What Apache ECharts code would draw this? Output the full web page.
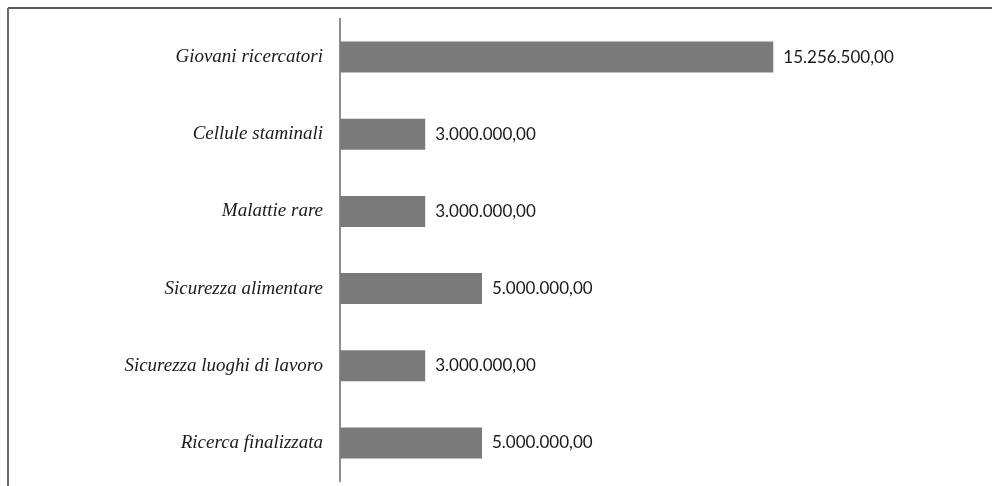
<!DOCTYPE html>
<html>
<head>
<meta charset="utf-8">
<script src="https://cdn.jsdelivr.net/npm/echarts@6/dist/echarts.min.js"></script>
<style>
html,body{margin:0;padding:0;background:#fff;}
#chart{width:992px;height:486px;}
</style>
</head>
<body>
<div id="chart"></div>
<script>
const categories = ['Ricerca finalizzata', 'Sicurezza luoghi di lavoro', 'Sicurezza alimentare', 'Malattie rare', 'Cellule staminali', 'Giovani ricercatori'];
const values = [5000000, 3000000, 5000000, 3000000, 3000000, 15256500];

function fmtIt(v) {
  const parts = v.toFixed(2).split('.');
  const intPart = parts[0].replace(/\B(?=(\d{3})+(?!\d))/g, '.');
  return intPart + ',' + parts[1];
}

const chart = echarts.init(document.getElementById('chart'), null, {renderer: 'canvas'});
chart.setOption({
  animation: false,
  backgroundColor: '#ffffff',
  grid: {left: 340, top: 18.5, width: 568, height: 463},
  xAxis: {
    type: 'value', min: 0, max: 20000000,
    show: false,
    splitLine: {show: false}
  },
  yAxis: {
    type: 'category',
    data: categories,
    axisLine: {show: true, lineStyle: {color: '#6a6a6a', width: 1.5}},
    axisTick: {show: false},
    axisLabel: {
      margin: 17,
      fontFamily: 'Liberation Serif',
      fontStyle: 'italic',
      fontSize: 19,
      color: '#1a1a1a'
    }
  },
  series: [{
    type: 'bar',
    data: values,
    barWidth: 31,
    itemStyle: {color: '#7a7a7a'},
    label: {
      show: true,
      position: 'right',
      distance: 10,
      formatter: p => fmtIt(p.value),
      fontFamily: 'Lato',
      fontSize: 17,
      color: '#1a1a1a'
    }
  }],
  graphic: [
    {type: 'line', shape: {x1: 8, y1: 8, x2: 992, y2: 8}, style: {stroke: '#5a5a5a', lineWidth: 2}},
    {type: 'line', shape: {x1: 8, y1: 8, x2: 8, y2: 486}, style: {stroke: '#6a6a6a', lineWidth: 2}}
  ]
});
</script>
</body>
</html>
